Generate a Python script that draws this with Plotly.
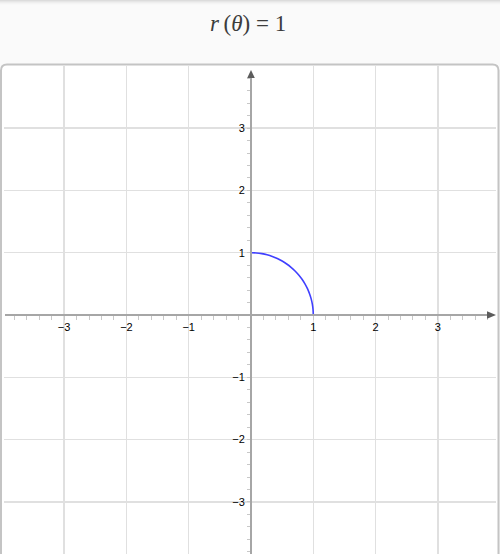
import plotly.graph_objects as go
import math

# ---------------- data ----------------
theta_deg = [0, 5, 10, 15, 20, 25, 30, 35, 40, 45, 50, 55, 60, 65, 70, 75, 80, 85, 90]
r_values = [1, 1, 1, 1, 1, 1, 1, 1, 1, 1, 1, 1, 1, 1, 1, 1, 1, 1, 1]

tick_vals = [-3, -2, -1, 1, 2, 3]
tick_text = ["\u22123", "\u22122", "\u22121", "1", "2", "3"]

x_range = [-3.965, 3.933]
y_range = [-3.836, 3.997]

title_text = "<i>r</i>\u2009(<i>\u03b8</i>) = 1"

# ---------------- layout helpers ----------------
W, H = 500, 554
PL, PR, PT, PB = 4, 496, 66, 554


def px(x):
    return x / W


def py(y):
    return 1 - y / H


x_dom = [px(PL), px(PR)]
y_dom = [py(PB), py(PT)]

# paper / pixel position of the data origin
x0_paper = x_dom[0] + (0 - x_range[0]) / (x_range[1] - x_range[0]) * (x_dom[1] - x_dom[0])
y0_paper = y_dom[0] + (0 - y_range[0]) / (y_range[1] - y_range[0]) * (y_dom[1] - y_dom[0])
ox_px = x0_paper * W
oy_px = (1 - y0_paper) * H

xs = [r * math.cos(math.radians(t)) for r, t in zip(r_values, theta_deg)]
ys = [r * math.sin(math.radians(t)) for r, t in zip(r_values, theta_deg)]

fig = go.Figure()
fig.add_trace(go.Scatter(
    x=xs, y=ys, mode="lines",
    line=dict(color="rgb(64,64,255)", width=1.6, shape="spline"),
    hoverinfo="skip", showlegend=False,
))

GRID = "#e0e0e0"
TICKC = "#c8c8c8"
tickfont = dict(family="Arial, Liberation Sans, sans-serif", size=11, color="#000")

common_axis = dict(
    showgrid=True, gridcolor=GRID, gridwidth=1.4,
    zeroline=False, showline=False,
    tickmode="array", tickvals=tick_vals, ticktext=tick_text,
    ticks="outside", ticklen=4, tickwidth=1, tickcolor=TICKC,
    minor=dict(dtick=0.2, tick0=0, ticks="outside", ticklen=4, tickwidth=1,
               tickcolor=TICKC, showgrid=False),
    tickfont=tickfont, fixedrange=True,
)

fig.update_layout(
    width=W, height=H,
    margin=dict(l=0, r=0, t=0, b=0),
    paper_bgcolor="#fafafa",
    plot_bgcolor="rgba(0,0,0,0)",
    xaxis=dict(domain=x_dom, range=x_range, anchor="free", position=y0_paper,
               side="bottom", ticklabelstandoff=-2, **common_axis),
    yaxis=dict(domain=y_dom, range=y_range, anchor="free", position=x0_paper,
               side="left", **common_axis),
)

# rounded panel
r = 6
x0, x1 = px(1), px(498.5)
y_top = py(64.5)
y_bot = py(H + 10)
rx = r / W
ry = r / H
panel_path = (
    f"M {x0},{y_bot} L {x0},{y_top - ry} Q {x0},{y_top} {x0 + rx},{y_top} "
    f"L {x1 - rx},{y_top} Q {x1},{y_top} {x1},{y_top - ry} L {x1},{y_bot} Z"
)
fig.add_shape(type="path", path=panel_path, xref="paper", yref="paper",
              fillcolor="white", line=dict(width=0), layer="below")
fig.add_shape(type="path", path=panel_path, xref="paper", yref="paper",
              fillcolor="rgba(0,0,0,0)", line=dict(color="#c4c4c4", width=2),
              layer="above")

# top shadow
shadow = ["#dcdcdc", "#e6e6e6", "#eeeeee", "#f4f4f4", "#f8f8f8"]
for i, c in enumerate(shadow):
    fig.add_shape(type="rect", xref="paper", yref="paper",
                  x0=0, x1=1, y0=py(i + 1), y1=py(i),
                  fillcolor=c, line=dict(width=0), layer="below")

# axis lines
AXC = "#a6a6a6"
fig.add_shape(type="line", xref="paper", yref="paper", x0=px(5), x1=px(488),
              y0=py(oy_px), y1=py(oy_px),
              line=dict(color=AXC, width=2), layer="above")
fig.add_shape(type="line", xref="paper", yref="paper", x0=px(ox_px), x1=px(ox_px),
              y0=py(H + 2), y1=py(77),
              line=dict(color=AXC, width=2), layer="above")

# arrow heads (decoration)
ARC = "#5c5c5c"
xa_path = (f"M {px(487)},{py(oy_px - 3.8)} L {px(496)},{py(oy_px)} "
           f"L {px(487)},{py(oy_px + 3.8)} Z")
ya_path = (f"M {px(ox_px - 3.8)},{py(78)} L {px(ox_px)},{py(70)} "
           f"L {px(ox_px + 3.8)},{py(78)} Z")
for p in (xa_path, ya_path):
    fig.add_shape(type="path", path=p, xref="paper", yref="paper",
                  fillcolor=ARC, line=dict(width=0), layer="above")

# title
fig.add_annotation(x=px(248), y=py(24), xref="paper", yref="paper",
                   text=title_text, showarrow=False,
                   font=dict(family="Liberation Serif, DejaVu Serif, serif", size=23,
                             color="#3c3c3c"),
                   xanchor="center", yanchor="middle")

fig.write_html(
    "out.html",
    config={"displayModeBar": False, "staticPlot": True},
    post_script="document.body.style.margin='0';document.body.style.padding='0';"
                "document.body.style.overflow='hidden';",
)
